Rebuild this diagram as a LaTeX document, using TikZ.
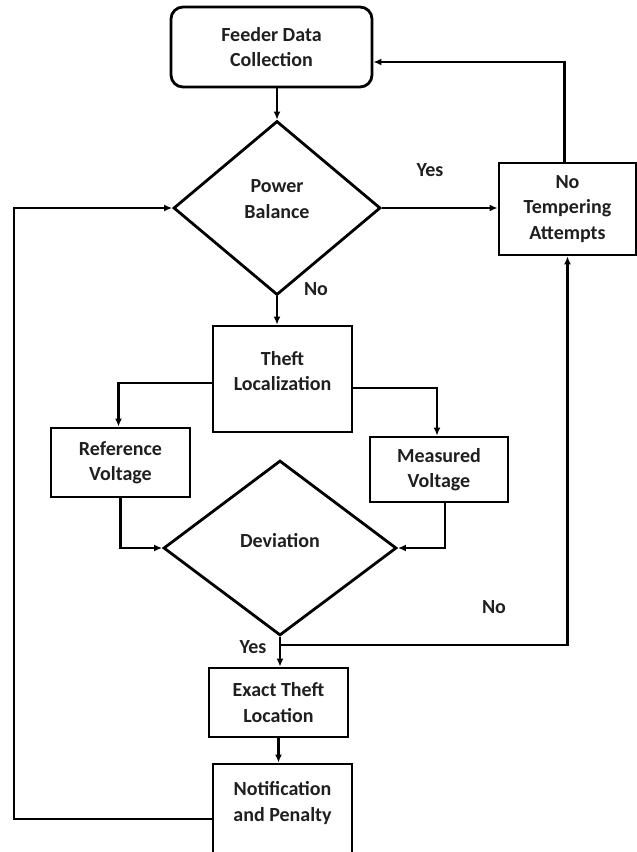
\documentclass[tikz,border=0pt]{standalone}
\usepackage{fontspec}
\setmainfont{Carlito}
\usetikzlibrary{shapes.geometric,arrows.meta}
\begin{document}
\begin{tikzpicture}[x=1pt,y=-1pt,
  line width=2.8pt,
  txt/.style={font=\fontsize{20}{25.5}\selectfont\bfseries, align=center, inner sep=0pt, text=black!88},
  box/.style={draw, rectangle, inner sep=0pt, txt},
  rbox/.style={box, rounded corners=12pt},
  dia/.style={draw, diamond, inner sep=0pt},
  arr/.style={-{Latex[length=8pt,width=7pt]}},
  lbl/.style={txt}
]
\useasboundingbox (0,0) rectangle (637,852);
% nodes
\node[rbox, minimum width=201pt, minimum height=80pt] (feeder) at (271.5,47) {Feeder Data\\Collection};
\node[dia, minimum width=207pt, minimum height=174pt] (pb) at (277,208) {};
\node[txt] (pbT) at (277,199) {Power\\Balance};
\node[box, minimum width=137pt, minimum height=92pt] (notemp) at (567.5,209) {No\\Tempering\\Attempts};
\node[box, minimum width=139pt, minimum height=106pt] (theft) at (282.5,379) {};
\node[txt] (theftT) at (282.5,371) {Theft\\Localization};
\node[box, minimum width=139pt, minimum height=69pt] (ref) at (120.5,462.5) {Reference\\Voltage};
\node[box, minimum width=138pt, minimum height=65pt] (meas) at (439,469.5) {Measured\\Voltage};
\node[dia, minimum width=233pt, minimum height=175pt] (dev) at (280,548) {};
\node[txt] (devT) at (280,541) {Deviation};
\node[box, minimum width=139pt, minimum height=69pt] (exact) at (278.5,702.5) {Exact Theft\\Location};
\node[box, minimum width=139pt, minimum height=120pt] (notif) at (282.5,824) {};
\node[txt] (notifT) at (282.5,803) {Notification\\and Penalty};
% labels
\node[lbl] (yes1) at (430,170) {Yes};
\node[lbl] (no1) at (316,289) {No};
\node[lbl] (no2) at (494,607) {No};
\node[lbl] (yes2) at (253,647) {Yes};
% connectors
\coordinate (loopx) at (14,0);
\draw[arr] (pb.north |- feeder.south) -- (pb.north);
\draw[arr] (pb.east) -- (pb.east -| notemp.west);
\draw[arr] ([xshift=-3pt]notemp.north) |- ([yshift=-15pt]feeder.east);
\draw[arr] (notif.west |- 0,819) -| (loopx |- pb.west) -- (pb.west);
\draw[arr] (pb.south) -- (pb.south |- theft.north);
\draw[arr] ([yshift=-4pt]theft.west) -| ([xshift=-2pt]ref.north);
\draw[arr] ([yshift=-9pt]theft.east) -| ([xshift=-2pt]meas.north);
\draw[arr] (ref.south) |- (dev.west);
\draw[arr] ([xshift=6pt]meas.south) |- (dev.east);
\draw[arr] (dev.south) -- (dev.south |- exact.north);
\draw[arr] ([yshift=-8pt]dev.south) -| (notemp.south);
\draw[arr] (exact.south) -- (exact.south |- notif.north);
\end{tikzpicture}
\end{document}
